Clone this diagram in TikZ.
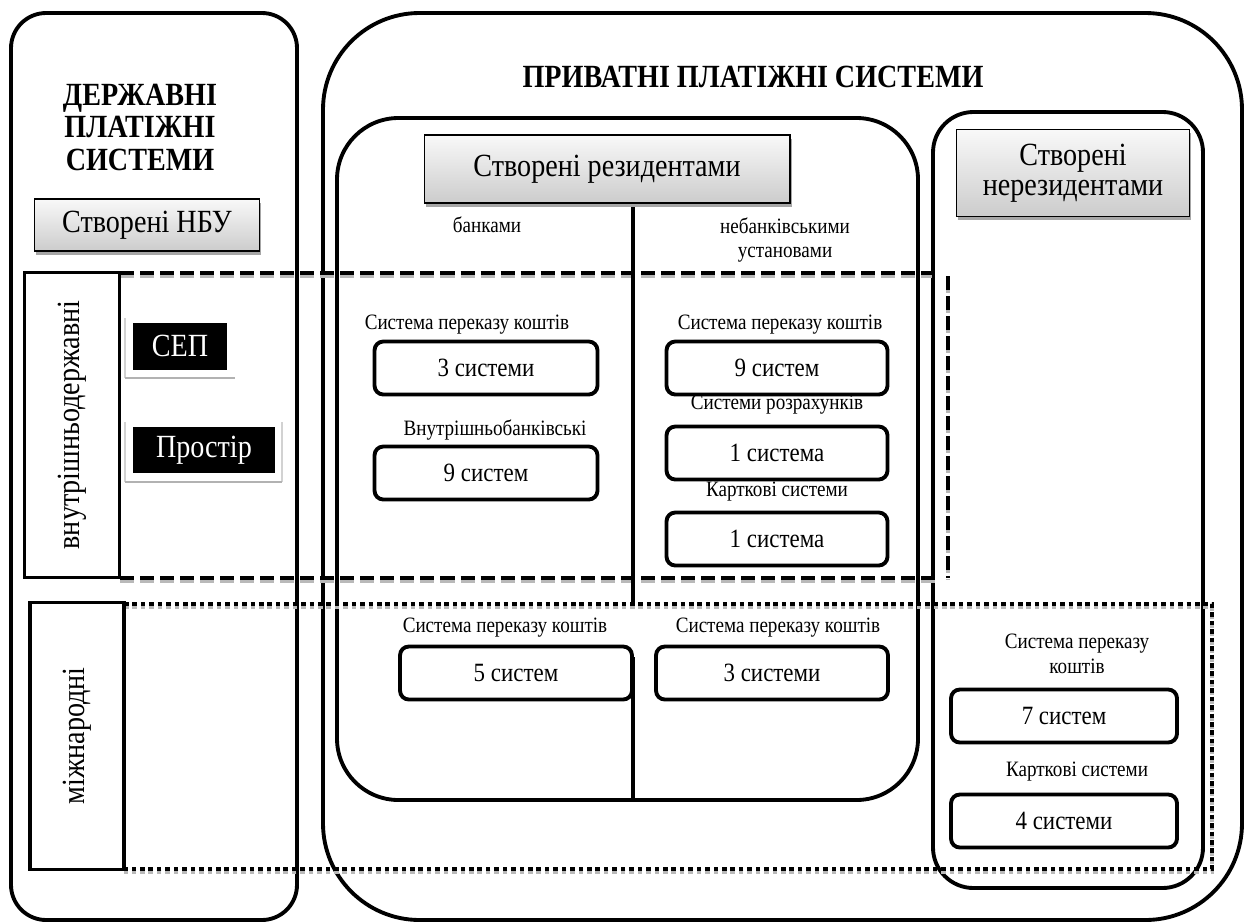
\documentclass[tikz,border=0pt]{standalone}
\usepackage{fontspec}
\setmainfont{Liberation Serif}[FakeStretch=0.87]
\usetikzlibrary{shadows}

\newcommand\labfont{\fontsize{12.5}{14}\selectfont}
\newcommand\boxfont{\fontsize{15}{17}\selectfont}
\newcommand\headfont{\fontsize{18.4}{18.5}\selectfont}

\begin{document}
\begin{tikzpicture}[
  x=0.02cm, y=-0.02cm,
  frame/.style={line width=2.2pt},
  header/.style={
    draw, line width=0.6pt, top color=gray!5, bottom color=gray!40,
    drop shadow={shadow xshift=1pt, shadow yshift=-2.2pt, fill=gray!70, opacity=1},
    font=\headfont, align=center, inner sep=2pt
  },
  blackbox/.style={fill=black, text=white, font=\headfont, inner sep=0pt},
  sidebox/.style={draw, line width=2.2pt, rotate=90, font=\headfont, inner sep=0pt},
  sysbox/.style={
    draw, line width=2.2pt, rounded corners=5pt,
    minimum height=1.06cm, font=\boxfont, inner sep=0pt
  },
  lab/.style={font=\labfont, align=center, inner sep=0pt},
  title/.style={font=\headfont\bfseries, align=center, inner sep=0pt},
  divider/.style={line width=1.8pt},
  dashbase/.style={line width=2.6pt, dash pattern=on 8pt off 3.4pt},
  dashline/.style={dashbase, preaction={dashbase, draw=gray!55, transform canvas={yshift=-1.4pt}}},
  dotbase/.style={line width=2.6pt, dash pattern=on 2.6pt off 2.2pt},
  dotline/.style={dotbase, preaction={dotbase, draw=gray!55, transform canvas={yshift=-1.4pt}}},
]
\useasboundingbox (0,0) rectangle (1247,923);

\draw[frame, rounded corners=20pt] (11,13) rectangle (297,920);
\draw[frame, rounded corners=55pt] (323,13) rectangle (1242,920);
\draw[frame, rounded corners=35pt] (337,118) rectangle (918,800);
\draw[frame, rounded corners=23pt] (933,112) rectangle (1203,888);

\draw[dashline] (120,273) -- (932,273);
\draw[dashline] (120,578) -- (940,578);
\draw[dashline] (948,276) -- (948,578);
\draw[dotline] (124,604) -- (1212,604) -- (1212,869) -- (124,869);

\draw[divider] (633,200) -- (633,603);
\draw[divider] (633,657) -- (633,800);

\node[title] (statetitle) at (140,127) {ДЕРЖАВНІ\\ПЛАТІЖНІ\\СИСТЕМИ};
\node[header, minimum width=4.5cm, minimum height=1.04cm] (nbu) at (147,225) {Створені НБУ};

\node[sidebox, minimum width=6.1cm, minimum height=1.9cm] (intra) at (72,425) {внутрішньодержавні};
\node[sidebox, minimum width=5.34cm, minimum height=1.88cm] (intl) at (77,736) {міжнародні};

\draw[gray!35, line width=0.8pt] (125,318) -- (125,378);
\draw[gray!60, line width=1.6pt] (125,378) -- (235,378);
\draw[gray!35, line width=0.8pt] (125,422) -- (125,482) (282,422) -- (282,482);
\draw[gray!60, line width=1.6pt] (125,482) -- (282,482);
\node[blackbox, minimum width=1.9cm, minimum height=0.94cm] (sep) at (180,346) {СЕП};
\node[blackbox, minimum width=2.86cm, minimum height=0.92cm] (prostir) at (204,450) {Простір};

\node[title] (privtitle) at (753,77) {ПРИВАТНІ ПЛАТІЖНІ СИСТЕМИ};
\node[header, minimum width=7.32cm, minimum height=1.36cm] (res) at (607,169) {Створені резидентами};
\node[header, minimum width=4.66cm, minimum height=1.74cm] (nonres) at (1073,173) {Створені\\[-1.5pt]нерезидентами};

\node[lab] (banks) at (487,225) {банками};
\node[lab] (nonbanks) at (785,240) {небанківськими\\установами};

\node[lab] (b1lab) at (467,325) {Система переказу коштів};
\node[sysbox, minimum width=4.46cm] (b1) at (486,368) {3 системи};
\node[lab] (b2lab) at (495,430) {Внутрішньобанківські};
\node[sysbox, minimum width=4.46cm] (b2) at (486,473) {9 систем};

\node[lab] (n1lab) at (780,325) {Система переказу коштів};
\node[sysbox, minimum width=4.42cm] (n1) at (777,368) {9 систем};
\node[lab] (n2lab) at (777,405) {Системи розрахунків};
\node[sysbox, minimum width=4.42cm] (n2) at (777,453) {1 система};
\node[lab] (n3lab) at (777,492) {Карткові системи};
\node[sysbox, minimum width=4.42cm] (n3) at (777,539) {1 система};

\node[lab] (bi1lab) at (505,628) {Система переказу коштів};
\node[sysbox, minimum width=4.64cm] (bi1) at (516,673) {5 систем};
\node[lab] (ni1lab) at (778,628) {Система переказу коштів};
\node[sysbox, minimum width=4.64cm] (ni1) at (772,673) {3 системи};

\node[lab] (f1lab) at (1077,654) {Система переказу\\коштів};
\node[sysbox, minimum width=4.52cm] (f1) at (1064,716) {7 систем};
\node[lab] (f2lab) at (1077,772) {Карткові системи};
\node[sysbox, minimum width=4.52cm] (f2) at (1064,821) {4 системи};

\end{tikzpicture}
\end{document}
